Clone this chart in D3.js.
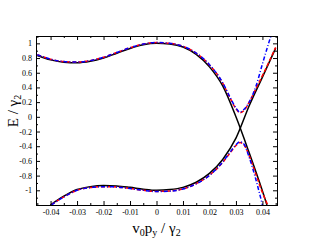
<!DOCTYPE html>
<html>
<head>
<meta charset="utf-8">
<script src="https://cdn.jsdelivr.net/npm/d3@7"></script>
<style>
  body { margin: 0; background: #fff; }
  .axis text { font-family: "Liberation Serif", "Times New Roman", serif; font-size: 8px; fill: #000; }
  .axis path, .axis line { stroke: #000; }
  .lab { font-family: "Liberation Serif", "Times New Roman", serif; font-size: 15px; fill: #000; }
</style>
</head>
<body>
<div id="chart"></div>
<script>
// black: unperturbed branches (they cross)
var xBlackA = [-0.045,-0.04,-0.035,-0.03,-0.025,-0.02,-0.015,-0.01,-0.005,0,0.005,0.01,0.015,0.02,0.025,0.03,0.035,0.04,0.0417];
var eBlackA = [0.835,0.775,0.742,0.735,0.755,0.80,0.865,0.93,0.98,1.0,0.99,0.95,0.85,0.68,0.42,0.0,-0.49,-1.01,-1.2];
var xBlackB = [-0.0401,-0.035,-0.03,-0.025,-0.02,-0.015,-0.01,-0.005,0,0.005,0.01,0.015,0.02,0.025,0.03,0.035,0.04,0.045];
var eBlackB = [-1.2,-1.08,-0.99,-0.95,-0.935,-0.94,-0.96,-0.985,-1.0,-0.99,-0.96,-0.89,-0.77,-0.58,-0.29,0.15,0.54,0.935];

// red dashed (anticrossing)
var xRedUp = [-0.045,-0.04,-0.035,-0.03,-0.025,-0.02,-0.015,-0.01,-0.005,0,0.005,0.01,0.015,0.02,0.025,0.028,0.03,0.0315,0.033,0.035,0.0375,0.04,0.0425,0.045];
var eRedUp = [0.845,0.785,0.752,0.745,0.765,0.81,0.875,0.94,0.99,1.01,1.0,0.96,0.865,0.705,0.46,0.24,0.11,0.055,0.085,0.2,0.38,0.56,0.75,0.945];
var xRedLo = [-0.0398,-0.035,-0.03,-0.025,-0.02,-0.015,-0.01,-0.005,0,0.005,0.01,0.015,0.02,0.025,0.028,0.03,0.0315,0.033,0.035,0.0375,0.04,0.042];
var eRedLo = [-1.2,-1.09,-1.0,-0.962,-0.95,-0.955,-0.975,-1.0,-1.015,-1.01,-0.98,-0.91,-0.795,-0.62,-0.48,-0.39,-0.35,-0.38,-0.53,-0.78,-1.03,-1.2];

// blue dash-dot
var xBlueUp = [-0.045,-0.04,-0.035,-0.03,-0.025,-0.02,-0.015,-0.01,-0.005,0,0.005,0.01,0.015,0.02,0.025,0.028,0.03,0.0315,0.033,0.035,0.0375,0.04,0.0425,0.045];
var eBlueUp = [0.845,0.785,0.752,0.745,0.765,0.81,0.875,0.94,0.99,1.012,1.0,0.96,0.868,0.71,0.465,0.25,0.12,0.065,0.1,0.2,0.41,0.72,1.02,1.3];
var xBlueLo = [-0.0397,-0.035,-0.03,-0.025,-0.02,-0.015,-0.01,-0.005,0,0.005,0.01,0.015,0.02,0.025,0.028,0.03,0.0315,0.033,0.035,0.0375,0.04];
var eBlueLo = [-1.2,-1.09,-1.0,-0.962,-0.95,-0.955,-0.975,-1.0,-1.017,-1.012,-0.982,-0.912,-0.797,-0.615,-0.47,-0.38,-0.34,-0.37,-0.55,-0.85,-1.2];

var xTicks = [-0.04,-0.03,-0.02,-0.01,0,0.01,0.02,0.03,0.04];
var xMinor = [-0.045,-0.035,-0.025,-0.015,-0.005,0.005,0.015,0.025,0.035,0.045];
var yTicks = [-1,-0.8,-0.6,-0.4,-0.2,0,0.2,0.4,0.6,0.8,1];
var yMinor = [-1.1,-0.9,-0.7,-0.5,-0.3,-0.1,0.1,0.3,0.5,0.7,0.9,1.1];

var svgWidth = 312, svgHeight = 242;
var margin = {top: 36, right: 35, bottom: 37, left: 36};
var width = svgWidth - margin.left - margin.right;
var height = svgHeight - margin.top - margin.bottom;

var svg = d3.select("#chart").append("svg")
  .attr("width", svgWidth)
  .attr("height", svgHeight);

var g = svg.append("g")
  .attr("transform", `translate(${margin.left}, ${margin.top})`);

var x = d3.scaleLinear().domain([-0.0455, 0.0455]).range([0, width]);
var y = d3.scaleLinear().domain([-1.2, 1.1]).range([height, 0]);

g.append("clipPath").attr("id", "clip")
  .append("rect").attr("width", width).attr("height", height);

function series(xs, es) {
  return xs.map(function(d, i) { return [d, es[i]]; });
}

var line = d3.line()
  .x(d => x(d[0]))
  .y(d => y(d[1]))
  .curve(d3.curveMonotoneX);

var curves = [
  {data: series(xBlackA, eBlackA), color: "#000", dash: null},
  {data: series(xBlackB, eBlackB), color: "#000", dash: null},
  {data: series(xRedUp, eRedUp), color: "#ff0000", dash: "4,2"},
  {data: series(xRedLo, eRedLo), color: "#ff0000", dash: "4,2"},
  {data: series(xBlueUp, eBlueUp), color: "#0000ff", dash: "4,2,1,2"},
  {data: series(xBlueLo, eBlueLo), color: "#0000ff", dash: "4,2,1,2"}
];

var plot = g.append("g").attr("clip-path", "url(#clip)");
curves.forEach(function(c) {
  plot.append("path")
    .datum(c.data)
    .attr("d", line)
    .attr("fill", "none")
    .attr("stroke", c.color)
    .attr("stroke-width", 1.5)
    .attr("stroke-dasharray", c.dash);
});

var fmt = d => String(d);

// axes, ticks pointing inward on all four sides
g.append("g").attr("class", "axis")
  .attr("transform", `translate(0, ${height})`)
  .call(d3.axisBottom(x).tickValues(xTicks).tickSize(-4).tickPadding(4).tickFormat(fmt));
g.append("g").attr("class", "axis")
  .attr("transform", `translate(0, ${height})`)
  .call(d3.axisBottom(x).tickValues(xMinor).tickSize(-2).tickFormat(""));
g.append("g").attr("class", "axis")
  .call(d3.axisTop(x).tickValues(xTicks).tickSize(-4).tickFormat(""));
g.append("g").attr("class", "axis")
  .call(d3.axisTop(x).tickValues(xMinor).tickSize(-2).tickFormat(""));

g.append("g").attr("class", "axis")
  .call(d3.axisLeft(y).tickValues(yTicks).tickSize(-4).tickPadding(4).tickFormat(fmt));
g.append("g").attr("class", "axis")
  .call(d3.axisLeft(y).tickValues(yMinor).tickSize(-2).tickFormat(""));
g.append("g").attr("class", "axis")
  .attr("transform", `translate(${width}, 0)`)
  .call(d3.axisRight(y).tickValues(yTicks).tickSize(-4).tickFormat(""));
g.append("g").attr("class", "axis")
  .attr("transform", `translate(${width}, 0)`)
  .call(d3.axisRight(y).tickValues(yMinor).tickSize(-2).tickFormat(""));

g.selectAll(".axis .domain").attr("stroke-width", 1);

// axis labels
var xl = svg.append("text").attr("class", "lab")
  .attr("x", margin.left + width / 2)
  .attr("y", 233)
  .attr("text-anchor", "middle");
xl.append("tspan").text("v");
xl.append("tspan").attr("font-size", "10px").attr("dy", 3).text("0");
xl.append("tspan").attr("dy", -3).text("p");
xl.append("tspan").attr("font-size", "10px").attr("dy", 3).text("y");
xl.append("tspan").attr("dy", -3).text(" / γ");
xl.append("tspan").attr("font-size", "10px").attr("dy", 3).text("2");

var yl = svg.append("text").attr("class", "lab")
  .attr("transform", "translate(18, 111) rotate(-90)")
  .attr("text-anchor", "middle");
yl.append("tspan").text("E / γ");
yl.append("tspan").attr("font-size", "10px").attr("dy", 3).text("2");
</script>
</body>
</html>
